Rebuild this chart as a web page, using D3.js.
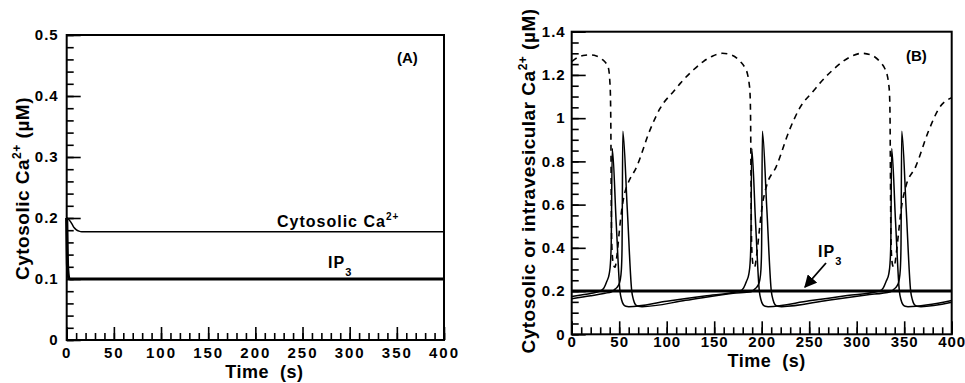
<!DOCTYPE html>
<html><head><meta charset="utf-8">
<script src="https://cdn.jsdelivr.net/npm/d3@7"></script>
<style>
body{margin:0;background:#fff}
svg{display:block}
text{font-family:"Liberation Sans",Arial,Helvetica,sans-serif;font-weight:bold;fill:#000}
</style>
</head><body>
<svg id="c" width="965" height="383"></svg>
<script>
// ---------- data ----------
const timeTicks = [0,50,100,150,200,250,300,350,400];
const timeMinor = d3.range(0,401,10);
const yTicksA = [0,0.1,0.2,0.3,0.4,0.5];
const yTickLabelsA = ["0","0.1","0.2","0.3","0.4","0.5"];
const yMinorA = d3.range(0,26).map(i=>i*0.02);
const yTicksB = [0,0.2,0.4,0.6,0.8,1,1.2,1.4];
const yTickLabelsB = ["0","0.2","0.4","0.6","0.8","1","1.2","1.4"];
const yMinorB = d3.range(0,29).map(i=>i*0.05);

// Panel A: cytosolic Ca2+ and IP3 (µM)
const caA = [[0,0.2],[2,0.198],[4,0.194],[6,0.189],[8,0.184],[10,0.181],[13,0.1785],[16,0.1775],[20,0.1775],[400,0.1775]];
const ip3A = [[0,0.2],[0.4,0.16],[0.8,0.125],[1.5,0.108],[2.5,0.101],[4,0.1],[400,0.1]];

// Panel B: two cytosolic Ca2+ traces, intravesicular Ca2+ (dashed), IP3
const cytoB1 = [[0,0.175],[10,0.182],[20,0.189],[30,0.2],[34,0.215],[37,0.245],[39.5,0.28],[40.8,0.33],[41.6,0.42],[42.7,0.86],
 [46.8,0.52],[50.8,0.2],[52.5,0.16],[54.5,0.138],[57,0.13],[60,0.128],[100,0.153],[140,0.177],[177,0.2],[181,0.215],[184,0.245],
 [186.5,0.28],[187.8,0.33],[188.6,0.42],[189.5,0.86],[193.5,0.52],[197.5,0.2],[199.2,0.16],[201.2,0.138],[203.7,0.13],[206.7,0.128],
 [250,0.155],[290,0.179],[324,0.2],[328,0.215],[331,0.245],[333.8,0.28],[335.1,0.33],[335.9,0.42],[336.8,0.86],[340.9,0.52],
 [344.9,0.2],[346.6,0.16],[348.6,0.138],[351,0.13],[354,0.128],[400,0.156]];
const cytoB2 = [[0,0.165],[20,0.178],[35,0.19],[42,0.197],[46,0.21],[49,0.225],[51,0.25],[52.3,0.3],[53,0.4],[53.8,0.94],
 [58.5,0.58],[63.2,0.2],[65,0.16],[67,0.138],[70,0.13],[74,0.128],[120,0.157],[170,0.19],[188.9,0.197],[192.9,0.21],[195.9,0.225],
 [197.9,0.25],[199.2,0.3],[199.9,0.4],[200.7,0.94],[205.4,0.58],[210.1,0.2],[211.9,0.16],[213.9,0.138],[216.9,0.13],[220.9,0.128],
 [270,0.158],[310,0.182],[335.6,0.197],[339.6,0.21],[342.6,0.225],[344.6,0.25],[345.9,0.3],[346.6,0.4],[347.4,0.94],[352.1,0.58],
 [356.8,0.2],[358.6,0.16],[360.6,0.138],[363.6,0.13],[367.6,0.128],[400,0.148]];
const vesB = [[0,1.262],[6,1.28],[12,1.29],[19,1.293],[26,1.288],[32,1.272],[36,1.255],[38.5,1.235],[40,1.18],[40.8,1.1],[41.3,0.9],
 [41.6,0.65],[42,0.45],[42.7,0.37],[44,0.32],[45.5,0.31],[47.5,0.36],[50.2,0.48],[52.2,0.56],[54.2,0.62],[56.2,0.66],[58.5,0.69],
 [68.5,0.776],[82.5,0.946],[93,1.045],[108.5,1.13],[114.5,1.162],[128.5,1.225],[138.5,1.262],[148.5,1.288],[158.5,1.3],[168.5,1.292],
 [177.5,1.262],[182.5,1.232],[185,1.205],[186.8,1.16],[187.7,1.116],[188.3,1.0],[188.7,0.75],[189.1,0.5],[189.7,0.38],[191,0.32],
 [192.5,0.31],[194.5,0.36],[197.5,0.48],[199.5,0.56],[201.5,0.62],[203.5,0.66],[205.3,0.69],[215.3,0.776],[229.3,0.946],[239.8,1.045],
 [255.3,1.13],[261.3,1.162],[275.3,1.225],[285.3,1.262],[295.3,1.288],[305.3,1.3],[315.3,1.292],[324.3,1.262],[329.3,1.232],[331.8,1.205],
 [333.6,1.16],[334.5,1.116],[335.1,1.0],[335.5,0.75],[335.9,0.5],[336.5,0.38],[337.8,0.32],[339.3,0.31],[341.3,0.36],[344.3,0.48],
 [346.3,0.56],[348.3,0.62],[350.3,0.66],[352.1,0.69],[362.1,0.776],[376.1,0.946],[386.6,1.045],[400,1.095]];
const ip3B = [[0,0.2],[400,0.2]];

// ---------- drawing ----------
const svg = d3.select("#c");

function panel(cfg){
  const x = d3.scaleLinear().domain([0,400]).range([cfg.x0,cfg.x1]);
  const y = d3.scaleLinear().domain([0,cfg.ymax]).range([cfg.y0,cfg.y1]);
  const g = svg.append("g");
  // minor ticks
  g.append("g").attr("transform",`translate(0,${cfg.y0})`)
    .call(d3.axisBottom(x).tickValues(timeMinor).tickSizeInner(-7).tickSizeOuter(0).tickFormat(""))
    .call(s=>s.select(".domain").remove());
  g.append("g").attr("transform",`translate(${cfg.x0},0)`)
    .call(d3.axisLeft(y).tickValues(cfg.yMinor).tickSizeInner(-7).tickSizeOuter(0).tickFormat(""))
    .call(s=>s.select(".domain").remove());
  // major ticks
  const ax = g.append("g").attr("transform",`translate(0,${cfg.y0})`)
    .call(d3.axisBottom(x).tickValues(timeTicks).tickSizeInner(-13).tickSizeOuter(0).tickPadding(cfg.xPad).tickFormat(d=>String(d)));
  ax.select(".domain").remove();
  ax.selectAll("text").attr("font-size",15).style("letter-spacing",cfg.xls+"px").attr("fill","#000");
  const ay = g.append("g").attr("transform",`translate(${cfg.x0},0)`)
    .call(d3.axisLeft(y).tickValues(cfg.yTicks).tickSizeInner(-14).tickSizeOuter(0).tickPadding(cfg.yPad).tickFormat((d,i)=>cfg.yLabels[i]));
  ay.select(".domain").remove();
  ay.selectAll("text").attr("font-size",15).style("letter-spacing","1px").attr("fill","#000");
  g.selectAll(".tick line").attr("stroke","#000").attr("stroke-width",1.6);
  // frame
  g.append("rect").attr("x",cfg.x0).attr("y",cfg.y1).attr("width",cfg.x1-cfg.x0).attr("height",cfg.y0-cfg.y1)
    .attr("fill","none").attr("stroke","#000").attr("stroke-width",2);
  // x title
  g.append("text").attr("x",(cfg.x0+cfg.x1)/2+cfg.titleDx).attr("y",cfg.titleY).attr("text-anchor","middle")
    .attr("font-size",18).style("letter-spacing","0.5px").style("white-space","pre").text("Time  (s)");
  return {x,y,g};
}

const A = panel({x0:66.7,x1:444,y0:340,y1:35,ymax:0.5,yTicks:yTicksA,yLabels:yTickLabelsA,yMinor:yMinorA,xPad:7,yPad:8,xls:2,titleY:378,titleDx:9});
const B = panel({x0:571.7,x1:951.7,y0:334.3,y1:31.7,ymax:1.4,yTicks:yTicksB,yLabels:yTickLabelsB,yMinor:yMinorB,xPad:2,yPad:6,xls:1,titleY:367,titleDx:5});

function draw(P, data, opt){
  const line = d3.line().x(d=>P.x(d[0])).y(d=>P.y(d[1])).curve(opt.curve||d3.curveMonotoneX);
  P.g.append("path").attr("d",line(data)).attr("fill","none").attr("stroke","#000")
    .attr("stroke-width",opt.w).attr("stroke-dasharray",opt.dash||null).attr("stroke-linejoin","round");
}
draw(A, caA, {w:1.5});
draw(A, ip3A, {w:3.2});
draw(B, ip3B, {w:3, curve:d3.curveLinear});
draw(B, cytoB1, {w:1.5});
draw(B, cytoB2, {w:1.5});
draw(B, vesB, {w:1.6, dash:"6,5"});

// y titles
function ytitle(x, y, pre, post){
  const t = svg.append("text").attr("transform",`translate(${x},${y}) rotate(-90)`).attr("text-anchor","middle")
    .attr("font-size",19).style("letter-spacing","0.5px");
  t.append("tspan").text(pre);
  t.append("tspan").attr("dy",-8).attr("font-size",12).text("2+");
  t.append("tspan").attr("dy",8).text(post);
}
ytitle(29, 188.5, "Cytosolic Ca", " (\u00B5M)");
ytitle(535, 181, "Cytosolic or intravesicular Ca", " (\u00B5M)");

// annotations panel A
svg.append("text").attr("x",397).attr("y",63).attr("font-size",15).text("(A)");
const lab = svg.append("text").attr("x",277).attr("y",227).attr("font-size",16).style("letter-spacing","1px");
lab.append("tspan").text("Cytosolic Ca");
lab.append("tspan").attr("dy",-7).attr("font-size",10).text("2+");
const ipA = svg.append("text").attr("x",328).attr("y",268).attr("font-size",16).style("letter-spacing","1px");
ipA.append("tspan").text("IP");
ipA.append("tspan").attr("dy",8).attr("font-size",11).text("3");

// annotations panel B
svg.append("text").attr("x",906).attr("y",61).attr("font-size",15).text("(B)");
const ipB = svg.append("text").attr("x",818).attr("y",257).attr("font-size",16).style("letter-spacing","1px");
ipB.append("tspan").text("IP");
ipB.append("tspan").attr("dy",8).attr("font-size",11).text("3");
svg.append("defs").append("marker").attr("id","ah").attr("viewBox","0 0 10 10").attr("refX",9).attr("refY",5)
  .attr("markerWidth",7).attr("markerHeight",7).attr("orient","auto")
  .append("path").attr("d","M0,0L10,5L0,10z").attr("fill","#000");
svg.append("line").attr("x1",826).attr("y1",263).attr("x2",805).attr("y2",287)
  .attr("stroke","#000").attr("stroke-width",1.8).attr("marker-end","url(#ah)");
</script>
</body></html>
